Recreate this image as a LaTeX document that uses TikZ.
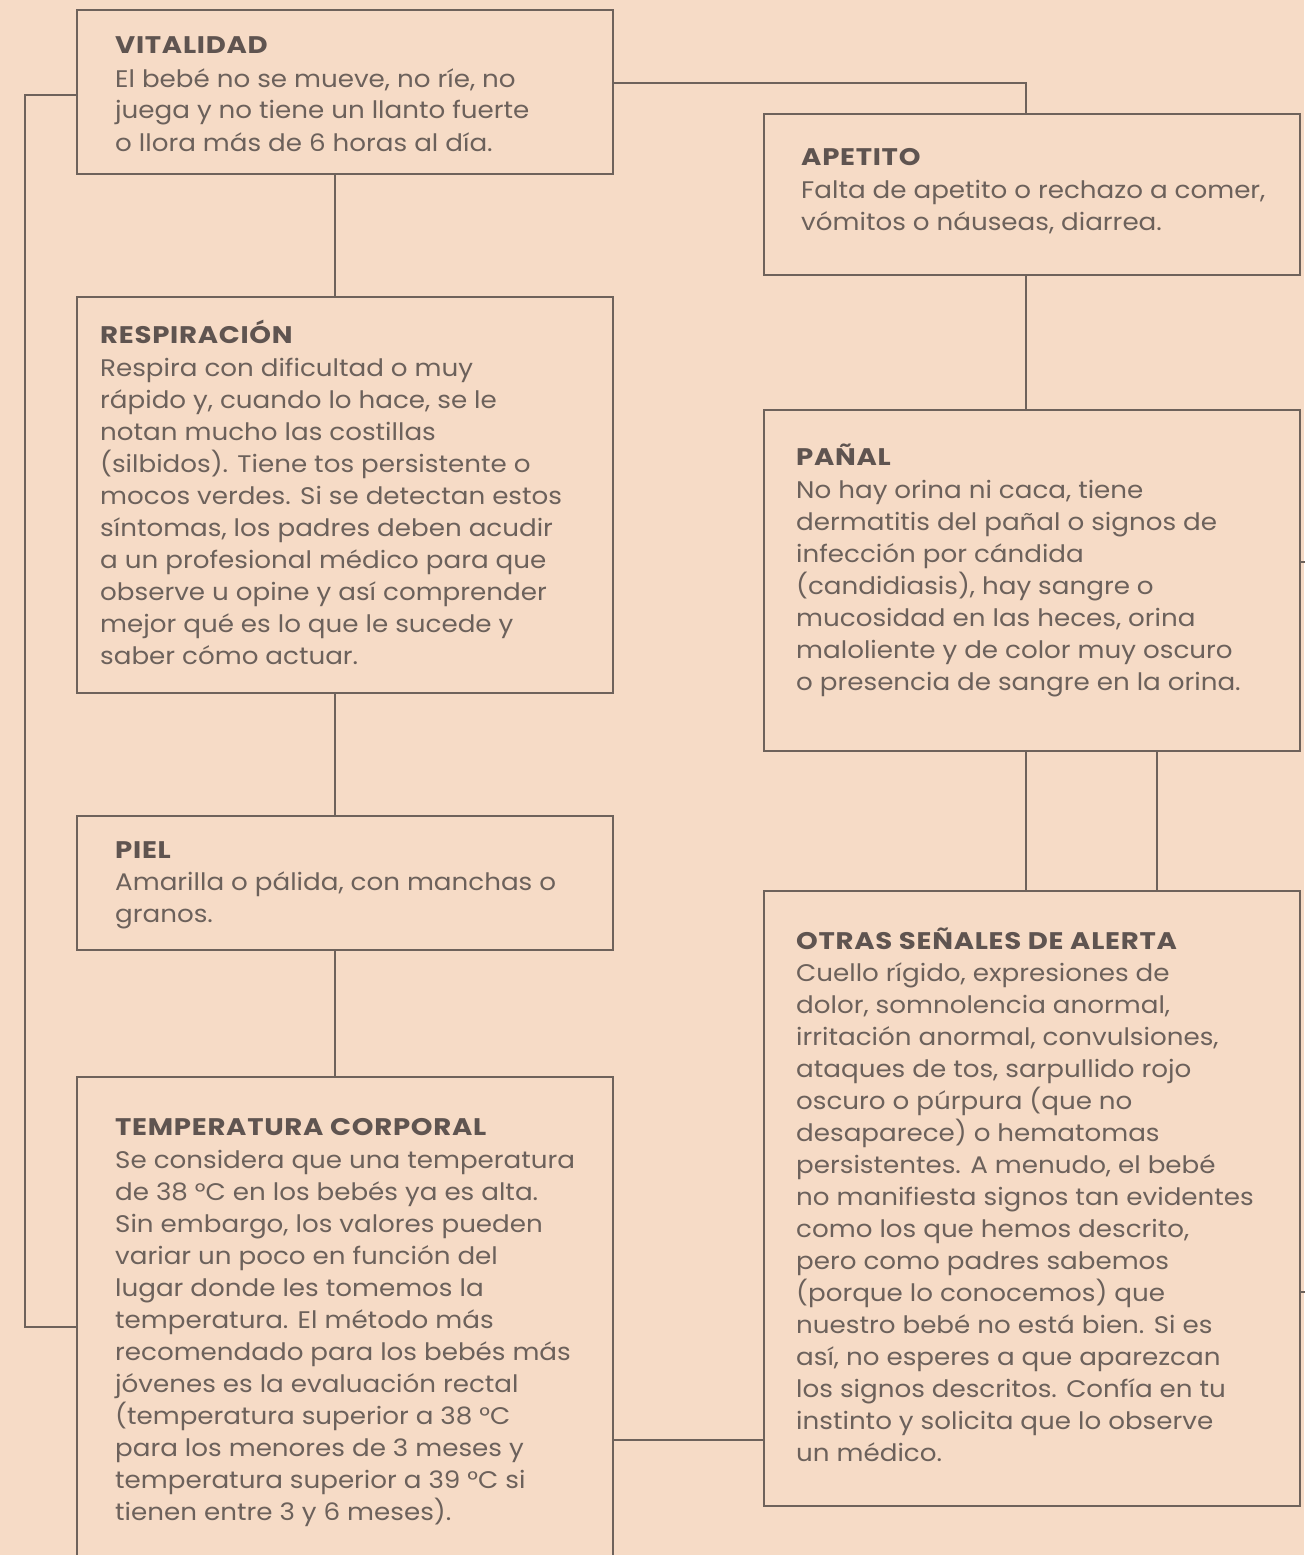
\documentclass[tikz,border=0pt]{standalone}
\usepackage{fontspec}
\setmainfont{Poppins}
\newfontfamily\bodyfont{Poppins}[FakeStretch=1.09]
\newfontfamily\headfont{Poppins Bold}[FakeStretch=1.15, LetterSpace=3]
\definecolor{bg}{HTML}{F6DBC6}
\definecolor{ln}{HTML}{6E625B}
\definecolor{txt}{HTML}{6C615B}
\definecolor{hd}{HTML}{5F5450}
\renewcommand{\arraystretch}{1}
\tikzset{
  box/.style={draw=ln, line width=2pt, inner sep=0pt, anchor=north west, rectangle},
  conn/.style={draw=ln, line width=2pt},
  title/.style={anchor=base west, inner sep=0pt, text=hd, font=\headfont\fontsize{24}{32}\selectfont},
  body/.style={anchor=base west, inner sep=0pt, text=txt, font=\bodyfont\fontsize{24}{32}\selectfont}
}
\begin{document}
\begin{tikzpicture}[x=1pt, y=-1pt]
\useasboundingbox (0,0) rectangle (1304,1555);
\fill[bg] (0,0) rectangle (1304,1555);
% boxes
\node[box, minimum width=536pt, minimum height=164pt] (vit) at (76,9) {};
\node[box, minimum width=536pt, minimum height=396pt] (resp) at (76,296) {};
\node[box, minimum width=536pt, minimum height=134pt] (piel) at (76,815) {};
\node[box, minimum width=536pt, minimum height=500pt] (temp) at (76,1076) {};
\node[box, minimum width=536pt, minimum height=161pt] (apet) at (763,113) {};
\node[box, minimum width=536pt, minimum height=341pt] (panal) at (763,409) {};
\node[box, minimum width=536pt, minimum height=615pt] (otras) at (763,890) {};
% helper coordinates
\coordinate (L1) at (25,95);
\coordinate (L2) at (25,1327);
\coordinate (R1) at (1026,83);
\coordinate (V) at (335,0);
\coordinate (W) at (1026,0);
\coordinate (W2) at (1157,0);
\coordinate (T) at (0,1440);
\coordinate (E1) at (1312,562);
\coordinate (E2) at (1312,1292);
% connectors
\draw[conn] (vit.west |- L1) -- (L1) -- (L2) -- (temp.west |- L2);
\draw[conn] (vit.east |- R1) -- (R1) -- (apet.north -| R1);
\draw[conn] (vit.south -| V) -- (resp.north -| V);
\draw[conn] (resp.south -| V) -- (piel.north -| V);
\draw[conn] (piel.south -| V) -- (temp.north -| V);
\draw[conn] (apet.south -| W) -- (panal.north -| W);
\draw[conn] (panal.south -| W) -- (otras.north -| W);
\draw[conn] (panal.south -| W2) -- (otras.north -| W2);
\draw[conn] (temp.east |- T) -- (otras.west |- T);
\draw[conn] (panal.east |- E1) -- (E1);
\draw[conn] (otras.east |- E2) -- (E2);
% texts
\node[title] (vitt) at (115,53) {VITALIDAD};
\node[body] (vitb) at (115,87) {\begin{tabular}[t]{@{}l@{}}
El bebé no se mueve, no ríe, no\\
juega y no tiene un llanto fuerte\\
o llora más de 6 horas al día.
\end{tabular}};
\node[title] (respt) at (100,343) {RESPIRACIÓN};
\node[body] (respb) at (100,376) {\begin{tabular}[t]{@{}l@{}}
Respira con dificultad o muy\\
rápido y, cuando lo hace, se le\\
notan mucho las costillas\\
(silbidos). Tiene tos persistente o\\
mocos verdes. Si se detectan estos\\
síntomas, los padres deben acudir\\
a un profesional médico para que\\
observe u opine y así comprender\\
mejor qué es lo que le sucede y\\
saber cómo actuar.
\end{tabular}};
\node[title] (pielt) at (115,858) {PIEL};
\node[body] (pielb) at (115,890) {\begin{tabular}[t]{@{}l@{}}
Amarilla o pálida, con manchas o\\
granos.
\end{tabular}};
\node[title] (tempt) at (115,1135) {TEMPERATURA CORPORAL};
\node[body] (tempb) at (115,1168) {\begin{tabular}[t]{@{}l@{}}
Se considera que una temperatura\\
de 38 °C en los bebés ya es alta.\\
Sin embargo, los valores pueden\\
variar un poco en función del\\
lugar donde les tomemos la\\
temperatura. El método más\\
recomendado para los bebés más\\
jóvenes es la evaluación rectal\\
(temperatura superior a 38 °C\\
para los menores de 3 meses y\\
temperatura superior a 39 °C si\\
tienen entre 3 y 6 meses).
\end{tabular}};
\node[title] (apett) at (801,165) {APETITO};
\node[body] (apetb) at (801,198) {\begin{tabular}[t]{@{}l@{}}
Falta de apetito o rechazo a comer,\\
vómitos o náuseas, diarrea.
\end{tabular}};
\node[title] (panalt) at (796,465) {PAÑAL};
\node[body] (panalb) at (796,498) {\begin{tabular}[t]{@{}l@{}}
No hay orina ni caca, tiene\\
dermatitis del pañal o signos de\\
infección por cándida\\
(candidiasis), hay sangre o\\
mucosidad en las heces, orina\\
maloliente y de color muy oscuro\\
o presencia de sangre en la orina.
\end{tabular}};
\node[title] (otrast) at (796,949) {OTRAS SEÑALES DE ALERTA};
\node[body] (otrasb) at (796,981) {\begin{tabular}[t]{@{}l@{}}
Cuello rígido, expresiones de\\
dolor, somnolencia anormal,\\
irritación anormal, convulsiones,\\
ataques de tos, sarpullido rojo\\
oscuro o púrpura (que no\\
desaparece) o hematomas\\
persistentes. A menudo, el bebé\\
no manifiesta signos tan evidentes\\
como los que hemos descrito,\\
pero como padres sabemos\\
(porque lo conocemos) que\\
nuestro bebé no está bien. Si es\\
así, no esperes a que aparezcan\\
los signos descritos. Confía en tu\\
instinto y solicita que lo observe\\
un médico.
\end{tabular}};
\end{tikzpicture}
\end{document}
